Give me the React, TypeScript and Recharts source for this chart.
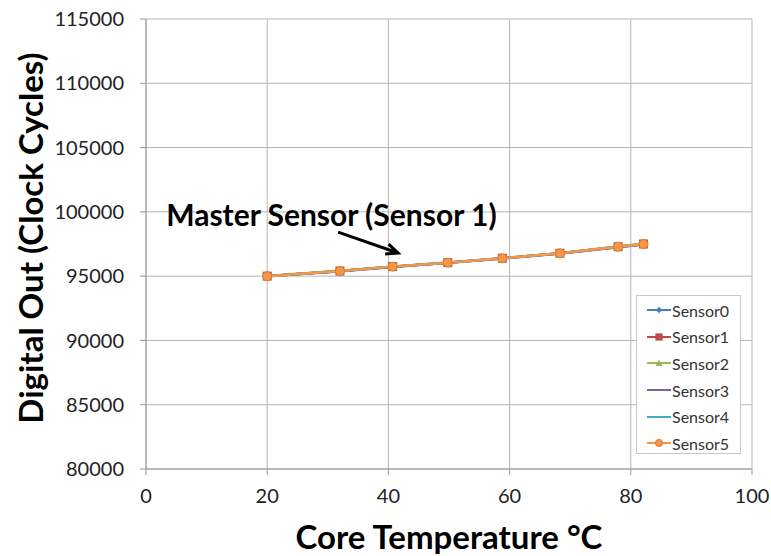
import {
  LineChart,
  Line,
  XAxis,
  YAxis,
  CartesianGrid,
  ReferenceDot,
  ReferenceLine,
} from "recharts";

const temps = [20, 32, 40.7, 49.8, 58.8, 68.3, 77.9, 82.1];

const sensor0 = [95010, 95390, 95730, 96050, 96380, 96770, 97260, 97480];
const sensor1 = [95000, 95400, 95740, 96050, 96390, 96780, 97290, 97500];
const sensor2 = [95020, 95410, 95750, 96060, 96400, 96790, 97300, 97530];
const sensor3 = [94990, 95380, 95720, 96040, 96370, 96760, 97250, 97470];
const sensor4 = [95000, 95400, 95740, 96050, 96390, 96780, 97280, 97510];
const sensor5 = [95000, 95400, 95740, 96050, 96390, 96780, 97290, 97500];

const sensorNames = ["Sensor0", "Sensor1", "Sensor2", "Sensor3", "Sensor4", "Sensor5"];
const sensorValues = [sensor0, sensor1, sensor2, sensor3, sensor4, sensor5];
const sensorColors = ["#4a7ebb", "#be4b48", "#98b954", "#7d60a0", "#46aac5", "#f79646"];
const sensorMarkers = ["diamond", "square", "triangle", "none", "none", "circle"];

const xTicks = [0, 20, 40, 60, 80, 100];
const yTicks = [80000, 85000, 90000, 95000, 100000, 105000, 110000, 115000];

const data = temps.map((t, i) => {
  const row: Record<string, number> = { temp: t };
  sensorNames.forEach((name, s) => {
    row[name] = sensorValues[s][i];
  });
  return row;
});

const FONT = "Lato, 'Open Sans', sans-serif";

const drawMarker = (kind: string, cx: number, cy: number, color: string, size = 1) => {
  if (kind === "diamond") {
    const r = 4 * size;
    return <polygon points={`${cx},${cy - r} ${cx + r},${cy} ${cx},${cy + r} ${cx - r},${cy}`} fill={color} />;
  }
  if (kind === "square") {
    const r = 4.5 * size;
    return <rect x={cx - r} y={cy - r} width={r * 2} height={r * 2} fill={color} />;
  }
  if (kind === "triangle") {
    const r = 4.5 * size;
    return <polygon points={`${cx},${cy - r} ${cx + r},${cy + r * 0.8} ${cx - r},${cy + r * 0.8}`} fill={color} />;
  }
  if (kind === "circle") {
    return <circle cx={cx} cy={cy} r={4.5 * size} fill={color} stroke="#d9822b" strokeWidth={1} />;
  }
  return <g />;
};

const makeDot = (kind: string, color: string) => (props: any) => {
  const { cx, cy, index } = props;
  return <g key={`d-${kind}-${index}`}>{drawMarker(kind, cx, cy, color)}</g>;
};

const LegendBox = () => (
  <div
    style={{
      position: "absolute",
      left: 636,
      top: 295,
      width: 105,
      height: 159,
      border: "1px solid #c8c8c8",
      background: "#fff",
      boxSizing: "border-box",
      paddingTop: 1,
    }}
  >
    {sensorNames.map((name, i) => (
      <div key={name} style={{ display: "flex", alignItems: "center", height: 26.6 }}>
        <svg width={34} height={12} style={{ marginLeft: 8 }}>
          <line x1={2} y1={6} x2={26} y2={6} stroke={sensorColors[i]} strokeWidth={2} />
          {drawMarker(sensorMarkers[i], 14, 6, sensorColors[i], 0.8)}
        </svg>
        <span style={{ fontFamily: FONT, fontSize: 16, color: "#333", marginLeft: -7 }}>{name}</span>
      </div>
    ))}
  </div>
);

const arrowShape = (props: any) => {
  const { x1, y1, x2, y2 } = props;
  const ang = Math.atan2(y2 - y1, x2 - x1);
  const len = 13;
  const spread = 0.42;
  const ax = x2 - len * Math.cos(ang - spread);
  const ay = y2 - len * Math.sin(ang - spread);
  const bx = x2 - len * Math.cos(ang + spread);
  const by = y2 - len * Math.sin(ang + spread);
  return (
    <g>
      <line x1={x1} y1={y1} x2={x2} y2={y2} stroke="#000" strokeWidth={3} />
      <polyline points={`${ax},${ay} ${x2},${y2} ${bx},${by}`} fill="none" stroke="#000" strokeWidth={3} />
    </g>
  );
};

const YLabel = (props: any) => {
  const { viewBox } = props;
  const cy = viewBox.y + viewBox.height / 2 - 6;
  return (
    <text
      x={30}
      y={cy}
      transform={`rotate(-90, 30, ${cy})`}
      textAnchor="middle"
      dominantBaseline="central"
      style={{ fontSize: 33, fontWeight: 700, fill: "#000", fontFamily: FONT }}
    >
      Digital Out (Clock Cycles)
    </text>
  );
};

const App = () => {
  return (
    <div style={{ position: "absolute", left: 0, top: 0, width: 771, height: 556, background: "#fff" }}>
      <LineChart width={771} height={556} data={data} margin={{ top: 19, right: 19, left: 0, bottom: 0 }}>
        <CartesianGrid stroke="#b5b5b5" strokeWidth={1} />
        <XAxis
          dataKey="temp"
          type="number"
          domain={[0, 100]}
          ticks={xTicks}
          height={87}
          stroke="#9a9a9a"
          tickSize={6}
          tickMargin={14}
          tick={{ fontSize: 20, fill: "#222", fontFamily: FONT }}
          label={{
            value: "Core Temperature °C",
            position: "insideBottom",
            offset: 7,
            style: { fontSize: 33, fontWeight: 700, fill: "#000", fontFamily: FONT },
          }}
        />
        <YAxis
          type="number"
          domain={[80000, 115000]}
          ticks={yTicks}
          width={146}
          stroke="#9a9a9a"
          tickSize={6}
          tickMargin={16}
          tick={{ fontSize: 20, fill: "#222", fontFamily: FONT }}
          label={<YLabel />}
        />
        {sensorNames.map((name, i) => (
          <Line
            key={name}
            dataKey={name}
            stroke={sensorColors[i]}
            strokeWidth={2.5}
            dot={makeDot(sensorMarkers[i], sensorColors[i])}
            activeDot={false}
            isAnimationActive={false}
          />
        ))}
        <ReferenceLine
          segment={[
            { x: 31.7, y: 98430 },
            { x: 41.6, y: 96800 },
          ]}
          shape={arrowShape}
          ifOverflow="visible"
        />
        <ReferenceDot
          x={30.6}
          y={99760}
          r={0}
          fill="none"
          stroke="none"
          label={{
            value: "Master Sensor (Sensor 1)",
            position: "center",
            style: { fontSize: 30, fontWeight: 700, fill: "#000", fontFamily: FONT },
          }}
        />
      </LineChart>
      <LegendBox />
    </div>
  );
};

export default App;
